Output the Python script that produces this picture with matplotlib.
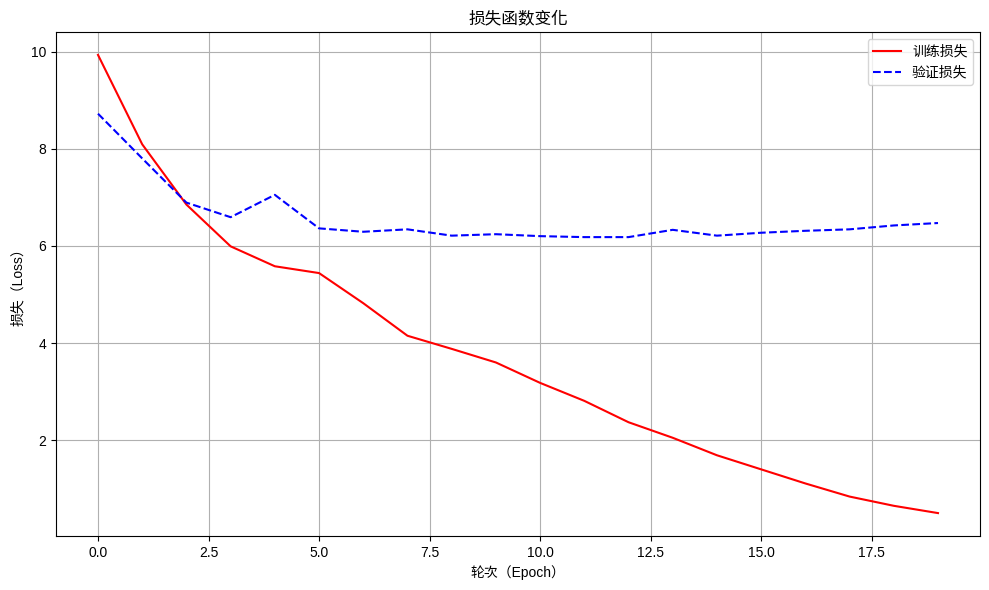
import numpy as np
import matplotlib.pyplot as plt

plt.rcParams['font.family'] = ['Liberation Sans', 'Noto Sans CJK TC', 'DejaVu Sans']
plt.rcParams['axes.unicode_minus'] = False

# loss per epoch
epochs = list(range(20))
train_loss = [9.93, 8.09, 6.85, 5.99, 5.58, 5.44, 4.82, 4.15, 3.88, 3.60,
              3.18, 2.81, 2.37, 2.05, 1.69, 1.40, 1.11, 0.84, 0.65, 0.50]
val_loss = [8.72, 7.80, 6.89, 6.59, 7.05, 6.36, 6.29, 6.34, 6.21, 6.24,
            6.20, 6.18, 6.18, 6.33, 6.21, 6.27, 6.31, 6.34, 6.42, 6.47]

fig = plt.figure(figsize=(9.89, 5.9), dpi=100)
plt.plot(epochs, train_loss, 'r-', label='训练损失')
plt.plot(epochs, val_loss, 'b--', label='验证损失')
plt.title('损失函数变化')
plt.xlabel('轮次（Epoch）')
plt.ylabel('损失（Loss）')
plt.legend()
plt.grid(True)
plt.subplots_adjust(left=56/989, right=980/989, top=1-32/590, bottom=1-536/590)
plt.savefig('out.png', dpi=100)
